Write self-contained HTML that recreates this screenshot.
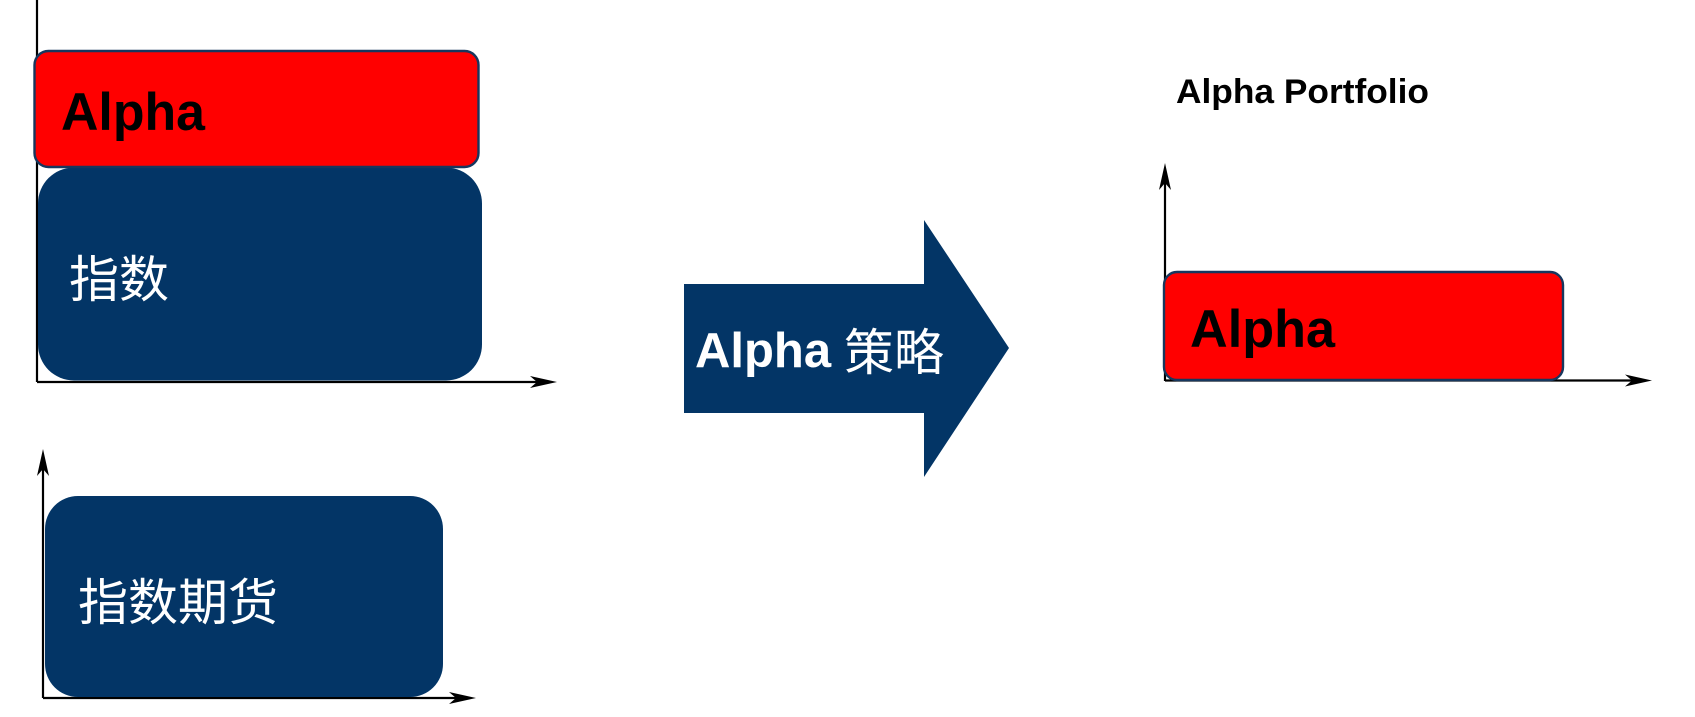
<!DOCTYPE html>
<html><head><meta charset="utf-8"><style>html,body{margin:0;padding:0;background:#fff}svg{display:block}</style></head>
<body>
<svg width="1695" height="717" viewBox="0 0 1695 717" xmlns="http://www.w3.org/2000/svg">
<rect width="1695" height="717" fill="#fff"/>
<g stroke="#000" stroke-width="2.2" fill="none">
<line x1="37" y1="0" x2="37" y2="382"/>
<line x1="37" y1="382" x2="545" y2="382"/>
<line x1="43" y1="698" x2="43" y2="460"/>
<line x1="43" y1="698" x2="465" y2="698"/>
<line x1="1165" y1="381" x2="1165" y2="175"/>
<line x1="1165" y1="380.5" x2="1640" y2="380.5"/>
</g>
<g fill="#000">
<path d="M557 382 L530 376 L537 382 L530 388 Z"/>
<path d="M476 698 L449 692 L456 698 L449 704 Z"/>
<path d="M1652 380.5 L1625 374.5 L1632 380.5 L1625 386.5 Z"/>
<path d="M43 449 L37 476 L43 469 L49 476 Z"/>
<path d="M1165 163 L1159 190 L1165 183 L1171 190 Z"/>
</g>
<rect x="38" y="167.5" width="444" height="213" rx="36" fill="#033566"/>
<rect x="34.5" y="51" width="444" height="116" rx="14" fill="#ff0000" stroke="#17375e" stroke-width="2.4"/>
<rect x="45" y="496" width="398" height="201" rx="33" fill="#033566"/>
<rect x="1164" y="272" width="399" height="108" rx="13" fill="#ff0000" stroke="#17375e" stroke-width="2.4"/>
<polygon points="684,284 924,284 924,220 1009,348 924,477 924,413 684,413" fill="#033566"/>
<g font-family="'Liberation Sans', Arial, sans-serif" font-weight="bold">
<text x="61" y="130" font-size="53" fill="#000" textLength="144" lengthAdjust="spacingAndGlyphs">Alpha</text>
<text x="1190" y="347" font-size="53" fill="#000" textLength="145" lengthAdjust="spacingAndGlyphs">Alpha</text>
<text x="1176" y="103" font-size="34" fill="#000" textLength="253" lengthAdjust="spacingAndGlyphs">Alpha Portfolio</text>
<text x="695" y="367" font-size="49" fill="#fff">Alpha</text>
</g>
<g font-family="'Liberation Sans', 'Noto Sans CJK SC', sans-serif" fill="#fff" font-size="50">
<text x="69" y="297">指数</text>
<text x="78" y="620">指数期货</text>
<text x="844" y="370">策略</text>
</g>
</svg>
</body></html>
